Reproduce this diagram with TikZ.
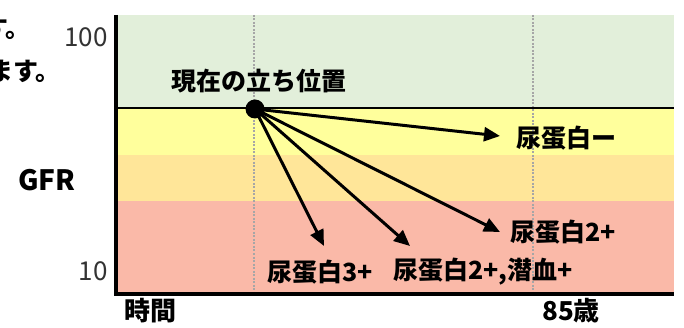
\documentclass[tikz,border=0pt]{standalone}
\usepackage{fontspec}
\setmainfont{Noto Sans CJK JP}
\usetikzlibrary{arrows.meta}
\definecolor{zgreen}{HTML}{E2EFDA}
\definecolor{zyellow}{HTML}{FFFF9C}
\definecolor{zorange}{HTML}{FFE699}
\definecolor{zpink}{HTML}{FAB9A8}
\tikzset{
  lbl/.style={font=\fontsize{25}{28}\selectfont\bfseries, inner sep=0pt},
  axl/.style={font=\fontsize{26}{29}\selectfont\bfseries, inner sep=0pt},
  num/.style={font=\fontsize{26}{29}\selectfont, inner sep=0pt, text=black!80},
  arr/.style={line width=3pt, -{Triangle[length=16pt,width=14pt]}},
  grid/.style={gray!70, line width=1.6pt, dash pattern=on 2pt off 1.5pt},
  dot/.style={circle, fill=black, minimum size=19pt, inner sep=0pt}
}
\begin{document}
\begin{tikzpicture}[x=1pt,y=-1pt]
\useasboundingbox (0,0) rectangle (684,328);
\clip (0,0) rectangle (684,328);
% bands
\fill[zgreen]  (118,15)  rectangle (674,108);
\fill[zyellow] (118,108) rectangle (674,155);
\fill[zorange] (118,155) rectangle (674,201);
\fill[zpink]   (118,201) rectangle (674,294);
% dotted verticals
\coordinate (g1t) at (254,15); \coordinate (g1b) at (254,294);
\coordinate (g2t) at (533,15); \coordinate (g2b) at (533,294);
\draw[grid] (g1t) -- (g1b);
\draw[grid] (g2t) -- (g2b);
% threshold line
\coordinate (h1) at (118,108); \coordinate (h2) at (674,108);
\draw[line width=2pt] (h1) -- (h2);
% axes
\coordinate (ax0) at (116,15); \coordinate (ax1) at (674,294);
\draw[line width=4pt] (ax0) |- (ax1);
% clipped text at top left
\node[lbl, anchor=east] (t1) at (31,28) {す。};
\node[lbl, anchor=east] (t2) at (61,71) {ます。};
% axis labels
\node[num, anchor=east] (n100) at (108,37) {100};
\node[num, anchor=east] (n10) at (108,271) {10};
\node[lbl, font=\fontsize{28}{31}\selectfont\bfseries] (gfr) at (47,180) {GFR};
\node[axl] (time) at (150,311) {時間};
\node[axl] (age) at (571,311) {85歳};
% current position
\node[dot] (now) at (255,109) {};
\node[lbl] (cur) at (259,81) {現在の立ち位置};
% arrow ends
\coordinate (e1) at (500,136);
\coordinate (e2) at (500,232);
\coordinate (e3) at (410,246);
\coordinate (e4) at (324,246);
\draw[arr] (now.center) -- (e1);
\draw[arr] (now.center) -- (e2);
\draw[arr] (now.center) -- (e3);
\draw[arr] (now.center) -- (e4);
% outcome labels
\node[lbl, anchor=west] (p1) at (516,138) {尿蛋白ー};
\node[lbl, anchor=west] (p2) at (510,232) {尿蛋白2+};
\node[lbl, anchor=west] (p3) at (267,272) {尿蛋白3+};
\node[lbl, anchor=west] (p4) at (393,272) {尿蛋白2+,潜血+};
\end{tikzpicture}
\end{document}
